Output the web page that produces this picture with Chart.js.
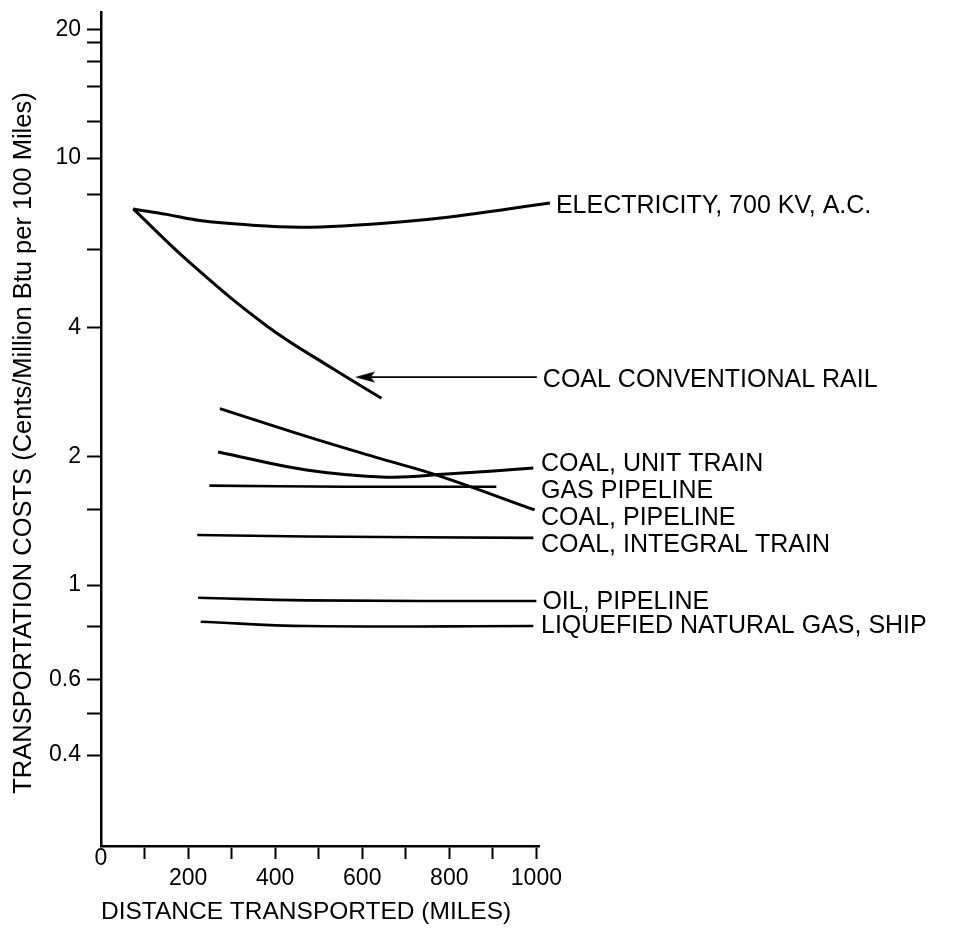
<!DOCTYPE html>
<html>
<head>
<meta charset="utf-8">
<script src="https://cdn.jsdelivr.net/npm/chart.js@4.4.1/dist/chart.umd.min.js"></script>
<style>
html,body{margin:0;padding:0;background:#fff;}
#wrap{width:958px;height:930px;position:relative;}
</style>
</head>
<body>
<div id="wrap"><canvas id="c" width="958" height="930"></canvas></div>
<script>
// ---------- DATA ----------
const distanceTicks = [0, 100, 200, 300, 400, 500, 600, 700, 800, 900, 1000];
const distanceLabels = [0, 200, 400, 600, 800, 1000];
const costTicks = [0.4, 0.5, 0.6, 0.8, 1, 1.5, 2, 4, 6.1, 8.2, 10, 12.2, 14.7, 16.8, 18.6, 20];
const costLabels = [0.4, 0.6, 1, 2, 4, 10, 20];

const seriesLabels = [
  "ELECTRICITY, 700 KV, A.C.",
  "",
  "COAL CONVENTIONAL RAIL",
  "COAL, PIPELINE",
  "COAL, UNIT TRAIN",
  "GAS PIPELINE",
  "COAL, INTEGRAL TRAIN",
  "OIL, PIPELINE",
  "LIQUEFIED NATURAL GAS, SHIP"
];

const electricityMiles = [74, 151, 227, 342, 457, 572, 686, 801, 916, 1031];
const electricityCost  = [7.60, 7.38, 7.14, 6.97, 6.89, 6.95, 7.08, 7.28, 7.55, 7.85];

const coalRailMiles = [74, 204, 380, 533, 644];
const coalRailCost  = [7.60, 5.69, 4.05, 3.21, 2.74];

const coalRailPointerMiles = [1001, 606];
const coalRailPointerCost  = [3.07, 3.07];

const coalPipelineMiles = [273, 472, 640, 778, 996];
const coalPipelineCost  = [2.59, 2.23, 1.98, 1.80, 1.50];

const unitTrainMiles = [269, 472, 656, 794, 993];
const unitTrainCost  = [2.05, 1.86, 1.79, 1.82, 1.88];

const gasPipelineMiles = [249, 564, 908];
const gasPipelineCost  = [1.71, 1.70, 1.70];

const integralTrainMiles = [221, 472, 993];
const integralTrainCost  = [1.31, 1.30, 1.29];

const oilPipelineMiles = [223, 472, 1000];
const oilPipelineCost  = [0.934, 0.921, 0.918];

const lngShipMiles = [229, 472, 993];
const lngShipCost  = [0.821, 0.802, 0.802];

// ---------- BUILD ----------
const FONT = "'Liberation Sans', Arial, Helvetica, sans-serif";
Chart.defaults.font.family = FONT;
Chart.defaults.color = '#000';

function pts(xs, ys) { return xs.map((x, i) => ({ x: x, y: ys[i] })); }

// arrow head image (points left)
const arrowHead = document.createElement('canvas');
arrowHead.width = 20; arrowHead.height = 12;
(function () {
  const g = arrowHead.getContext('2d');
  g.fillStyle = '#000';
  g.beginPath(); g.moveTo(0, 6); g.lineTo(20, 0.5); g.lineTo(16, 6); g.lineTo(20, 11.5); g.closePath(); g.fill();
})();

function lineDs(label, data, width) {
  return {
    label: label, data: data, borderColor: '#000', backgroundColor: '#000',
    borderWidth: width, pointRadius: 0, tension: 0.4,
    fill: false, clip: false
  };
}

const datasets = [
  lineDs(seriesLabels[0], pts(electricityMiles, electricityCost), 3),
  lineDs(seriesLabels[1], pts(coalRailMiles, coalRailCost), 3),
  Object.assign(lineDs(seriesLabels[2], pts(coalRailPointerMiles, coalRailPointerCost), 1.8), {
    pointRadius: [0, 10], pointStyle: [false, arrowHead], tension: 0
  }),
  lineDs(seriesLabels[3], pts(coalPipelineMiles, coalPipelineCost), 3),
  lineDs(seriesLabels[4], pts(unitTrainMiles, unitTrainCost), 3),
  lineDs(seriesLabels[5], pts(gasPipelineMiles, gasPipelineCost), 2.6),
  lineDs(seriesLabels[6], pts(integralTrainMiles, integralTrainCost), 2.6),
  lineDs(seriesLabels[7], pts(oilPipelineMiles, oilPipelineCost), 2.6),
  lineDs(seriesLabels[8], pts(lngShipMiles, lngShipCost), 2.6)
];

// label placement (pixel nudges only)
const labelNudgeY = [3, 0, 3, 8, -4, 4, 7, 1, 0];
const labelAnchorFirst = [false, false, true, false, false, false, false, false, false];

const endLabels = {
  id: 'endLabels',
  afterDatasetsDraw(chart) {
    const ctx = chart.ctx;
    ctx.save();
    ctx.fillStyle = '#000';
    ctx.font = '25px ' + FONT;
    ctx.textAlign = 'left';
    ctx.textBaseline = 'middle';
    chart.data.datasets.forEach((ds, i) => {
      if (!ds.label) return;
      const meta = chart.getDatasetMeta(i);
      const el = labelAnchorFirst[i] ? meta.data[0] : meta.data[meta.data.length - 1];
      const x = Math.max(el.x + 6, 541);
      const y = el.y + labelNudgeY[i];
      ctx.fillText(ds.label, x, y);
    });
    ctx.restore();
  }
};

new Chart(document.getElementById('c'), {
  type: 'line',
  data: { datasets: datasets },
  plugins: [endLabels],
  options: {
    responsive: false,
    animation: false,
    devicePixelRatio: 1,
    layout: { padding: { left: 0, right: 419, top: 8, bottom: 0 } },
    plugins: { legend: { display: false }, tooltip: { enabled: false } },
    scales: {
      x: {
        type: 'linear', min: 0, max: 1006, position: 'bottom',
        afterFit(s) { s.height = 84; s.paddingLeft = 0; s.paddingRight = 0; },
        afterBuildTicks(s) { s.ticks = distanceTicks.map(v => ({ value: v })); },
        grid: {
          drawOnChartArea: false, drawTicks: true, tickLength: 13, tickWidth: 2,
          tickColor: (c) => (c.tick && c.tick.value === 0) ? 'rgba(0,0,0,0)' : '#000'
        },
        border: { display: true, color: '#000', width: 2.5 },
        ticks: {
          autoSkip: false, maxRotation: 0, minRotation: 0, padding: -10, color: '#000',
          font: { size: 23, lineHeight: 0.87 },
          callback: (v) => v === 0 ? '0' : (distanceLabels.includes(v) ? ['', String(v)] : '')
        },
        title: {
          display: true, text: 'DISTANCE TRANSPORTED (MILES)', align: 'start', color: '#000',
          font: { size: 24.5 }, padding: { top: 0, bottom: 3 }
        }
      },
      y: {
        type: 'logarithmic', min: 0.245, max: 22, position: 'left',
        afterFit(s) { s.width = 101; s.paddingTop = 0; s.paddingBottom = 0; },
        afterBuildTicks(s) { s.ticks = costTicks.map(v => ({ value: v })); },
        grid: { drawOnChartArea: false, drawTicks: true, tickLength: 14, tickWidth: 2, tickColor: '#000' },
        border: { display: true, color: '#000', width: 2.5 },
        ticks: {
          autoSkip: false, padding: 6, color: '#000', font: { size: 23 },
          callback: (v) => costLabels.includes(v) ? String(v) : ''
        },
        title: {
          display: true, text: 'TRANSPORTATION COSTS (Cents/Million Btu per 100 Miles)    ',
          color: '#000', font: { size: 25.5 }, padding: { top: 9, bottom: 0 }
        }
      }
    }
  }
});
</script>
</body>
</html>
